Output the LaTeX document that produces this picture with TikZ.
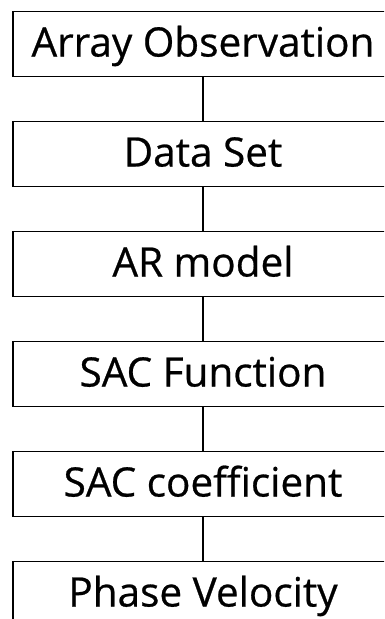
\documentclass[tikz,border=0pt]{standalone}
\usepackage{fontspec}
\setsansfont[FakeBold=0.6]{Open Sans}
\usetikzlibrary{positioning}
\tikzset{
	stagebox/.style={draw, line width=1.2pt, minimum width=380pt, minimum height=65pt, inner sep=0pt, outer sep=0pt,
		font=\sffamily\fontsize{40.5}{48}\selectfont, text height=29pt, text depth=4pt},
	link/.style={line width=1.2pt}
}
\begin{document}
\begin{tikzpicture}[x=1pt, y=1pt, node distance=45pt]
			\useasboundingbox (0,0) rectangle (384,-619);
			\clip (0,0) rectangle (384,-619);
			% processing chain, boxes run past the right edge
			\node[stagebox] (obs) at (203,-44) {Array Observation};
			\node[stagebox, below=of obs] (data) {Data Set};
			\node[stagebox, below=of data] (ar) {AR model};
			\node[stagebox, below=of ar] (sacf) {SAC Function};
			\node[stagebox, below=of sacf] (sacc) {SAC coefficient};
			\node[stagebox, below=of sacc] (vel) {Phase Velocity};
			\draw[link] (obs) -- (data);
			\draw[link] (data) -- (ar);
			\draw[link] (ar) -- (sacf);
			\draw[link] (sacf) -- (sacc);
			\draw[link] (sacc) -- (vel);
\end{tikzpicture}
\end{document}
